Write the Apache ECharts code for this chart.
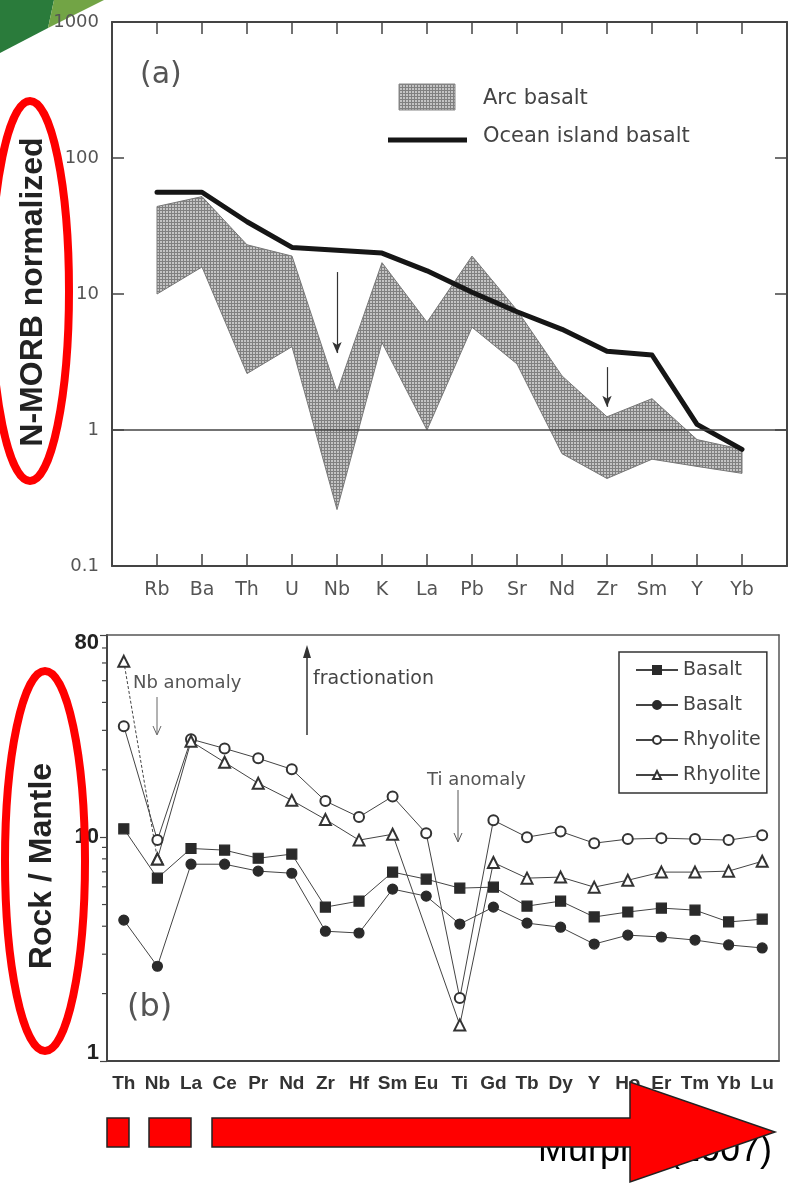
<!DOCTYPE html>
<html><head><meta charset="utf-8">
<script src="https://cdn.jsdelivr.net/npm/echarts@6.0.0/dist/echarts.min.js"></script>
<style>html,body{margin:0;padding:0;background:#fff}#c{width:795px;height:1184px}</style>
</head><body><div id="c"></div>
<script>
// ---------- Panel (a) data ----------
const catsA = ['Rb','Ba','Th','U','Nb','K','La','Pb','Sr','Nd','Zr','Sm','Y','Yb'];
const oibA = [56,56,34,22,21,20,14.8,10.3,7.4,5.5,3.8,3.56,1.1,0.72];
const arcUpperA = [44,52,23,19,1.9,17,6.2,19,7.6,2.5,1.25,1.7,0.85,0.72];
const arcLowerA = [10,15.8,2.6,4.1,0.26,4.4,1.0,5.7,3.06,0.67,0.44,0.61,0.54,0.48];
const arrowsA = [['Nb',14.5,3.68],['Zr',2.9,1.48]];
const refLineA = 1;

// ---------- Panel (b) data ----------
const catsB = ['Th','Nb','La','Ce','Pr','Nd','Zr','Hf','Sm','Eu','Ti','Gd','Tb','Dy','Y','Ho','Er','Tm','Yb','Lu'];
const basaltSquare = [10.9,6.56,8.9,8.75,8.05,8.4,4.87,5.18,6.98,6.49,5.92,5.98,4.92,5.18,4.4,4.63,4.82,4.72,4.18,4.3];
const basaltCircle = [4.26,2.65,7.57,7.57,7.05,6.9,3.8,3.73,5.86,5.45,4.09,4.87,4.13,3.96,3.33,3.65,3.58,3.47,3.3,3.2];
const rhyoliteCircle = [31.3,9.7,27.4,24.9,22.5,20.1,14.5,12.3,15.2,10.4,1.91,11.9,10.0,10.6,9.4,9.8,9.9,9.8,9.7,10.2];
const rhyoliteTriangle = [61,7.98,26.8,21.6,17.4,14.6,12.0,9.7,10.3,null,1.45,7.7,6.56,6.63,5.98,6.42,6.98,6.98,7.05,7.8];
const minorTicksB = [2,3,4,5,6,7,8,9,20,30,40,50,60,70];
const labelTicksB = [1,10,80];

const FONT = 'DejaVu Sans';
const ARIAL = 'Liberation Sans';

// hatched pattern for arc basalt
const pc = document.createElement('canvas');
pc.width = 3; pc.height = 3;
const pctx = pc.getContext('2d');
pctx.fillStyle = '#c4c4c4'; pctx.fillRect(0,0,3,3);
pctx.fillStyle = '#808080'; pctx.fillRect(0,0,3,1); pctx.fillRect(0,0,1,3);
const hatch = {image: pc, repeat: 'repeat'};

const padA = ['', ...catsA, ''];
const idxA = n => catsA.indexOf(n) + 1;

const chart = echarts.init(document.getElementById('c'), null, {renderer:'canvas'});

const mlData = [{yAxis: refLineA, symbol:'none', lineStyle:{color:'#444', width:1.5, type:'solid'}}];
arrowsA.forEach(a => {
  mlData.push([
    {coord:[idxA(a[0]), a[1]], symbol:'none', lineStyle:{color:'#333', width:1.2, type:'solid'}},
    {coord:[idxA(a[0]), a[2]], symbol:'arrow', symbolSize:[7,11]}
  ]);
});

const lineCol = '#444';
function seriesB(name, data, symbol, size, extra) {
  return Object.assign({
    name, type:'line', xAxisIndex:2, yAxisIndex:2, data, symbol, symbolSize:size,
    connectNulls:true,
    lineStyle:{color:lineCol, width:1},
    itemStyle:{color:'#2a2a2a', borderColor:'#2a2a2a', borderWidth:1.2},
    z:3
  }, extra || {});
}

const triMain = rhyoliteTriangle.map((v,i) => i === 0 ? null : v);
const triDash = rhyoliteTriangle.map((v,i) => i <= 1 ? v : null);

const option = {
  animation:false,
  backgroundColor:'#fff',
  grid:[
    {left:112, top:22, width:675, height:544},
    {left:107, top:635, width:672, height:426}
  ],
  xAxis:[
    {type:'category', gridIndex:0, data:padA, boundaryGap:false, position:'bottom',
     axisLine:{lineStyle:{color:'#444', width:2}},
     axisTick:{inside:true, length:12, interval:0, lineStyle:{color:'#444', width:1.5}},
     axisLabel:{interval:0, fontFamily:FONT, fontSize:19, color:'#555', margin:15},
     splitLine:{show:false}},
    {type:'category', gridIndex:0, data:padA, boundaryGap:false, position:'top',
     axisLine:{lineStyle:{color:'#444', width:2}},
     axisTick:{inside:true, length:12, interval:0, lineStyle:{color:'#444', width:1.5}},
     axisLabel:{show:false}, splitLine:{show:false}},
    {type:'category', gridIndex:1, data:catsB, boundaryGap:true, position:'bottom',
     axisLine:{lineStyle:{color:'#444', width:2}},
     axisTick:{inside:true, length:8, alignWithLabel:true, interval:0, lineStyle:{color:'#444', width:1.2}},
     axisLabel:{interval:0, fontFamily:ARIAL, fontWeight:'bold', fontSize:19, color:'#333', margin:13},
     splitLine:{show:false}},
    {type:'category', gridIndex:1, data:catsB, boundaryGap:true, position:'top',
     axisLine:{lineStyle:{color:'#555', width:1.5}},
     axisTick:{show:false}, axisLabel:{show:false}, splitLine:{show:false}}
  ],
  yAxis:[
    {type:'log', gridIndex:0, logBase:10, min:0.1, max:1000, position:'left',
     axisLine:{show:true, lineStyle:{color:'#444', width:2}},
     axisTick:{show:true, inside:true, length:12, lineStyle:{color:'#444', width:1.5}},
     axisLabel:{fontFamily:FONT, fontSize:18, color:'#555', margin:13,
       formatter: v => v < 1 ? v.toFixed(1) : String(Math.round(v))},
     splitLine:{show:false}},
    {type:'log', gridIndex:0, logBase:10, min:0.1, max:1000, position:'right',
     axisLine:{show:true, lineStyle:{color:'#444', width:2}},
     axisTick:{show:true, inside:true, length:12, lineStyle:{color:'#444', width:1.5}},
     axisLabel:{show:false}, splitLine:{show:false}},
    {type:'log', gridIndex:1, logBase:10, min:1, max:80, position:'left',
     axisLine:{show:true, lineStyle:{color:'#444', width:2}},
     axisTick:{show:true, inside:false, length:7, lineStyle:{color:'#444', width:1.2}},
     axisLabel:{fontFamily:ARIAL, fontWeight:'bold', fontSize:22, color:'#222', margin:8,
       formatter: v => { const r = Math.round(v);
         if (r === labelTicksB[2]) return '{mx|' + r + '}';
         if (r === labelTicksB[0]) return '{mn|' + r + '}';
         return '{n|' + r + '}'; },
       rich:{
         mx:{fontFamily:ARIAL, fontWeight:'bold', fontSize:22, color:'#222', padding:[16,0,0,0]},
         mn:{fontFamily:ARIAL, fontWeight:'bold', fontSize:22, color:'#222', padding:[0,0,16,0]},
         n:{fontFamily:ARIAL, fontWeight:'bold', fontSize:22, color:'#222'}
       }},
     splitLine:{show:false}},
    {type:'log', gridIndex:1, logBase:10, min:1, max:80, position:'right',
     axisLine:{show:true, lineStyle:{color:'#555', width:1.5}},
     axisTick:{show:false}, axisLabel:{show:false}, splitLine:{show:false}}
  ],
  legend:{
    data:['Basalt','Basalt ','Rhyolite','Rhyolite '],
    orient:'vertical', left:619, top:652, padding:[8,0,8,16], itemGap:15,
    itemWidth:42, itemHeight:10, borderColor:'#333', borderWidth:1.5,
    textStyle:{fontFamily:FONT, fontSize:19, color:'#444', lineHeight:20}
  },
  series:[
    {type:'custom', name:'Arc basalt', xAxisIndex:0, yAxisIndex:0, data:[[1,1]], silent:true, z:1,
     renderItem:(params, api) => {
       const pts = [];
       catsA.forEach((c,i) => pts.push(api.coord([i+1, arcUpperA[i]])));
       for (let i = catsA.length-1; i >= 0; i--) pts.push(api.coord([i+1, arcLowerA[i]]));
       return {type:'polygon', shape:{points:pts}, style:{fill:hatch, stroke:'#777', lineWidth:1}};
     }},
    {type:'line', name:'Ocean island basalt', xAxisIndex:0, yAxisIndex:0,
     data: oibA.map((v,i) => [i+1, v]), symbol:'none', z:4,
     lineStyle:{color:'#161616', width:5, join:'round', cap:'round'},
     markLine:{silent:true, symbol:'none', label:{show:false}, data:mlData,
       lineStyle:{color:'#333'}, itemStyle:{color:'#333'}}},
    seriesB('Basalt', basaltSquare, 'rect', 10),
    seriesB('Basalt ', basaltCircle, 'circle', 10),
    seriesB('Rhyolite', rhyoliteCircle, 'emptyCircle', 10, {itemStyle:{color:'#333', borderColor:'#333', borderWidth:1.2}}),
    seriesB('Rhyolite ', triMain, 'emptyTriangle', 11, {itemStyle:{color:'#333', borderColor:'#333', borderWidth:1.2}}),
    seriesB('Rhyolite tri dash', triDash, 'emptyTriangle', 11, {connectNulls:false,
      lineStyle:{color:lineCol, width:1, type:[3,2]}, itemStyle:{color:'#333', borderColor:'#333', borderWidth:1.2}}),
    {type:'custom', name:'minor', xAxisIndex:2, yAxisIndex:2, silent:true, clip:false,
     data: minorTicksB.map(v => [0, v]),
     renderItem:(params, api) => {
       const y = api.coord([0, api.value(1)])[1];
       const x0 = params.coordSys.x;
       return {type:'line', shape:{x1:x0-5, y1:y, x2:x0, y2:y}, style:{stroke:'#444', lineWidth:1.2}};
     }}
  ],
  graphic:[
    // slide decoration (top-left)
    {type:'polygon', z:-10, shape:{points:[[0,0],[54,0],[48,28],[0,53]]}, style:{fill:'#2a7b3b'}},
    {type:'polygon', z:-10, shape:{points:[[54,0],[104,0],[48,28]]}, style:{fill:'#72a445'}},
    // panel (a) annotations
    {type:'text', x:140, y:75, style:{text:'(a)', fontFamily:FONT, fontSize:30, fill:'#555', verticalAlign:'middle'}},
    {type:'rect', shape:{x:399, y:84, width:56, height:26}, style:{fill:hatch, stroke:'#888', lineWidth:1}},
    {type:'text', x:483, y:99, style:{text:'Arc basalt', fontFamily:FONT, fontSize:21, fill:'#444', verticalAlign:'middle'}},
    {type:'line', shape:{x1:388, y1:140, x2:467, y2:140}, style:{stroke:'#161616', lineWidth:5}},
    {type:'text', x:483, y:137, style:{text:'Ocean island basalt', fontFamily:FONT, fontSize:21, fill:'#444', verticalAlign:'middle'}},
    // panel (b) annotations
    {type:'text', x:133, y:683, style:{text:'Nb anomaly', fontFamily:FONT, fontSize:18, fill:'#555', verticalAlign:'middle'}},
    {type:'line', shape:{x1:157, y1:697, x2:157, y2:734}, style:{stroke:'#666', lineWidth:1}},
    {type:'polyline', shape:{points:[[153,726],[157,735],[161,726]]}, style:{stroke:'#666', lineWidth:1, fill:'none'}},
    {type:'text', x:313, y:679, style:{text:'fractionation', fontFamily:FONT, fontSize:19, fill:'#444', verticalAlign:'middle'}},
    {type:'line', shape:{x1:307, y1:735, x2:307, y2:655}, style:{stroke:'#333', lineWidth:1.5}},
    {type:'polygon', shape:{points:[[303,658],[307,645],[311,658]]}, style:{fill:'#333'}},
    {type:'text', x:427, y:780, style:{text:'Ti anomaly', fontFamily:FONT, fontSize:18, fill:'#555', verticalAlign:'middle'}},
    {type:'line', shape:{x1:458, y1:790, x2:458, y2:841}, style:{stroke:'#555', lineWidth:1}},
    {type:'polyline', shape:{points:[[454,833],[458,842],[462,833]]}, style:{stroke:'#555', lineWidth:1, fill:'none'}},
    {type:'text', x:127, y:1008, style:{text:'(b)', fontFamily:FONT, fontSize:32, fill:'#555', verticalAlign:'middle'}},
    // axis titles
    {type:'text', x:33, y:292, rotation:Math.PI/2, style:{text:'N-MORB normalized', fontFamily:ARIAL, fontWeight:'bold', fontSize:32, fill:'#222', align:'center', verticalAlign:'middle'}},
    {type:'text', x:42, y:866, rotation:Math.PI/2, style:{text:'Rock / Mantle', fontFamily:ARIAL, fontWeight:'bold', fontSize:32, fill:'#222', align:'center', verticalAlign:'middle'}},
    // red ellipses
    {type:'ellipse', z:100, shape:{cx:30, cy:291, rx:39, ry:190}, style:{fill:'none', stroke:'#ff0000', lineWidth:8}},
    {type:'ellipse', z:100, shape:{cx:45, cy:861, rx:40, ry:190}, style:{fill:'none', stroke:'#ff0000', lineWidth:8}},
    // citation + red arrow
    {type:'text', z:50, x:538, y:1151, style:{text:'Murphy (2007)', fontFamily:ARIAL, fontSize:36, fill:'#000', verticalAlign:'middle'}},
    {type:'rect', z:100, shape:{x:107, y:1118, width:22, height:29}, style:{fill:'#ff0000', stroke:'#222', lineWidth:1.5}},
    {type:'rect', z:100, shape:{x:149, y:1118, width:42, height:29}, style:{fill:'#ff0000', stroke:'#222', lineWidth:1.5}},
    {type:'polygon', z:100, shape:{points:[[212,1118],[630,1118],[630,1082],[775,1132],[630,1182],[630,1147],[212,1147]]}, style:{fill:'#ff0000', stroke:'#222', lineWidth:1.5}}
  ]
};
chart.setOption(option);
</script>
</body></html>
